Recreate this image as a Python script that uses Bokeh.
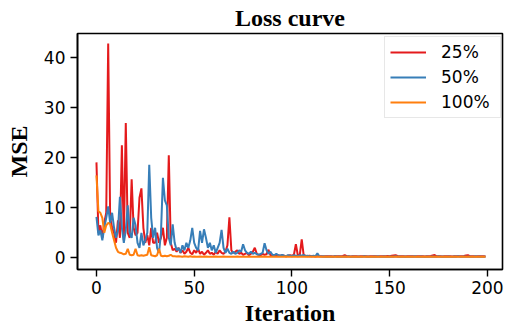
from bokeh.plotting import figure
from bokeh.models import Range1d, FixedTicker, Legend, LegendItem
from bokeh.embed import file_html
from bokeh.resources import INLINE

iterations = list(range(200))

loss_25 = [
    19.1, 5.0, 6.5, 4.0, 7.0, 9.0, 42.9, 8.0, 6.0, 5.0,
    3.0, 7.5, 4.0, 22.5, 3.5, 27.0, 5.0, 4.0, 15.7, 6.0,
    4.5, 5.0, 12.0, 13.9, 6.0, 3.0, 4.5, 2.5, 6.0, 3.0,
    3.0, 5.0, 3.0, 4.0, 6.0, 2.5, 4.0, 20.5, 3.0, 1.5,
    1.8, 1.2, 2.0, 1.0, 1.5, 0.8, 1.2, 2.0, 1.0, 0.7,
    1.5, 1.0, 1.8, 0.8, 1.2, 0.6, 1.0, 1.5, 0.8, 1.0,
    0.6, 1.2, 0.8, 1.5, 1.0, 0.8, 1.2, 2.5, 8.1, 1.5,
    1.0, 1.2, 1.5, 0.8, 1.0, 0.6, 0.8, 1.0, 0.5, 0.8,
    1.2, 2.0, 0.8, 0.6, 0.5, 0.8, 0.6, 0.7, 1.6, 0.5,
    0.4, 0.6, 0.4, 0.5, 0.4, 0.5, 0.4, 0.3, 0.4, 0.5,
    0.4, 0.6, 2.7, 0.5, 0.6, 3.7, 0.5, 0.4, 0.3, 0.4,
    0.3, 0.3, 0.25, 0.3, 0.28, 0.3, 0.25, 0.3, 0.3, 0.28,
    0.3, 0.25, 0.3, 0.28, 0.3, 0.3, 0.35, 0.5, 0.3, 0.28,
    0.25, 0.3, 0.28, 0.3, 0.25, 0.3, 0.3, 0.28, 0.3, 0.25,
    0.3, 0.28, 0.3, 0.3, 0.25, 0.3, 0.28, 0.3, 0.3, 0.35,
    0.3, 0.4, 0.45, 0.5, 0.35, 0.3, 0.28, 0.3, 0.25, 0.3,
    0.3, 0.28, 0.3, 0.25, 0.3, 0.3, 0.28, 0.3, 0.25, 0.3,
    0.3, 0.35, 0.45, 0.55, 0.3, 0.28, 0.3, 0.25, 0.3, 0.3,
    0.28, 0.3, 0.25, 0.3, 0.3, 0.28, 0.3, 0.3, 0.35, 0.45,
    0.5, 0.3, 0.28, 0.3, 0.25, 0.3, 0.3, 0.28, 0.3, 0.25,
]

loss_50 = [
    8.2, 4.5, 5.5, 3.5, 6.0, 8.0, 10.3, 7.0, 9.0, 6.0,
    4.0, 5.5, 12.2, 6.0, 3.0, 5.5, 10.5, 5.0, 4.0, 8.0,
    6.5, 3.0, 2.0, 5.0, 2.5, 3.5, 5.0, 18.6, 8.0, 4.0,
    6.0, 2.0, 1.0, 5.0, 16.0, 11.5, 10.5, 4.0, 2.5, 6.7,
    3.0, 1.5, 2.0, 1.0, 2.5, 1.5, 3.0, 2.0, 3.5, 6.0,
    3.0, 2.0, 1.5, 5.4, 3.0, 5.7, 4.0, 2.0, 3.0, 1.5,
    2.5, 1.0, 2.0, 3.0, 5.6, 2.0, 1.0, 1.8, 1.0, 0.8,
    1.2, 0.8, 1.0, 1.5, 1.2, 2.7, 1.5, 1.0, 0.8, 1.2,
    0.8, 1.0, 0.7, 0.6, 0.8, 1.0, 2.9, 1.5, 0.8, 1.2,
    0.6, 0.5, 0.8, 0.5, 0.4, 0.6, 0.4, 0.3, 0.5, 0.4,
    0.3, 0.5, 0.4, 0.3, 0.5, 0.4, 0.6, 0.3, 0.4, 0.3,
    0.3, 0.4, 0.3, 0.9, 0.3, 0.25, 0.3, 0.2, 0.25, 0.2,
    0.25, 0.2, 0.3, 0.2, 0.25, 0.2, 0.2, 0.25, 0.2, 0.3,
    0.2, 0.25, 0.2, 0.2, 0.25, 0.2, 0.2, 0.3, 0.2, 0.25,
    0.2, 0.2, 0.25, 0.2, 0.3, 0.2, 0.2, 0.25, 0.2, 0.2,
    0.25, 0.2, 0.2, 0.3, 0.2, 0.25, 0.2, 0.2, 0.25, 0.2,
    0.2, 0.25, 0.2, 0.3, 0.2, 0.2, 0.25, 0.2, 0.2, 0.25,
    0.2, 0.2, 0.25, 0.2, 0.2, 0.3, 0.2, 0.25, 0.2, 0.2,
    0.25, 0.2, 0.2, 0.25, 0.2, 0.3, 0.2, 0.2, 0.25, 0.2,
    0.2, 0.25, 0.2, 0.2, 0.3, 0.2, 0.25, 0.2, 0.2, 0.25,
]

loss_100 = [
    16.5, 9.3, 9.0, 8.0, 5.0, 6.5, 7.0, 6.7, 5.0, 3.5,
    2.0, 1.2, 1.0, 0.9, 0.7, 0.8, 1.8, 0.6, 0.5, 0.6,
    1.8, 0.5, 0.4, 0.5, 0.4, 0.5, 0.6, 2.1, 0.5, 0.4,
    0.3, 0.5, 1.8, 0.4, 0.3, 0.4, 0.3, 0.4, 0.6, 0.3,
    0.3, 0.25, 0.3, 0.25, 0.2, 0.3, 0.25, 0.2, 0.3, 0.2,
    0.25, 0.2, 0.2, 0.25, 0.2, 0.2, 0.25, 0.2, 0.2, 0.2,
    0.2, 0.25, 0.2, 0.2, 0.2, 0.25, 0.2, 0.2, 0.2, 0.2,
    0.2, 0.2, 0.25, 0.2, 0.2, 0.2, 0.2, 0.2, 0.25, 0.2,
    0.2, 0.2, 0.2, 0.2, 0.2, 0.25, 0.2, 0.2, 0.2, 0.2,
    0.2, 0.2, 0.2, 0.2, 0.2, 0.2, 0.2, 0.25, 0.2, 0.2,
    0.2, 0.2, 0.2, 0.2, 0.2, 0.2, 0.2, 0.2, 0.2, 0.2,
    0.2, 0.2, 0.2, 0.2, 0.2, 0.2, 0.2, 0.2, 0.2, 0.2,
    0.2, 0.2, 0.2, 0.2, 0.2, 0.2, 0.2, 0.2, 0.2, 0.2,
    0.2, 0.2, 0.2, 0.2, 0.2, 0.2, 0.2, 0.2, 0.2, 0.2,
    0.2, 0.2, 0.2, 0.2, 0.2, 0.2, 0.2, 0.2, 0.2, 0.2,
    0.2, 0.2, 0.2, 0.2, 0.2, 0.2, 0.2, 0.2, 0.2, 0.2,
    0.2, 0.2, 0.2, 0.2, 0.2, 0.2, 0.2, 0.2, 0.2, 0.2,
    0.2, 0.2, 0.2, 0.2, 0.2, 0.2, 0.2, 0.2, 0.2, 0.2,
    0.2, 0.2, 0.2, 0.2, 0.2, 0.2, 0.2, 0.2, 0.2, 0.2,
    0.2, 0.2, 0.2, 0.2, 0.2, 0.2, 0.2, 0.2, 0.2, 0.2,
]

series_labels = ["25%", "50%", "100%"]
series_colors = ["#e41a1c", "#377eb8", "#ff7f0e"]
x_ticks = [0, 50, 100, 150, 200]
y_ticks = [0, 10, 20, 30, 40]

SERIF = "Liberation Serif"
SANS = "DejaVu Sans"

p = figure(width=504, height=328, output_backend="svg", toolbar_location=None,
           title="Loss curve",
           x_range=Range1d(-9.7, 207.7), y_range=Range1d(-2.35, 44.9),
           min_border_left=77, min_border_right=2, min_border_top=30,
           min_border_bottom=57)

p.title.text_font = SERIF
p.title.text_font_style = "bold"
p.title.text_font_size = "24px"
p.title.text_color = "black"
p.title.text_line_height = 0.8
p.title.align = "center"
p.title.offset = 0
p.title.standoff = 5

p.xgrid.visible = False
p.ygrid.visible = False
p.outline_line_color = "black"
p.outline_line_width = 1.6
p.outline_line_alpha = 1.0

renderers = []
for ys, c in zip([loss_25, loss_50, loss_100], series_colors):
    r = p.line(iterations, ys, line_color=c, line_width=2)
    renderers.append(r)

legend = Legend(items=[LegendItem(label=l, renderers=[r]) for l, r in zip(series_labels, renderers)],
                location=(307, 151))
legend.label_text_font = SANS
legend.label_text_font_size = "17px"
legend.label_text_color = "black"
legend.glyph_width = 36
legend.glyph_height = 20
legend.label_height = 20
legend.label_width = 54
legend.label_standoff = 15
legend.padding = 5
legend.spacing = 5
legend.margin = 0
legend.border_line_color = "#d0d0d0"
legend.border_line_width = 1
legend.background_fill_alpha = 0.8
p.add_layout(legend)

for ax, ticks in ((p.xaxis[0], x_ticks), (p.yaxis[0], y_ticks)):
    ax.ticker = FixedTicker(ticks=ticks)
    ax.minor_tick_line_color = None
    ax.major_tick_out = 7
    ax.major_tick_in = 0
    ax.major_tick_line_width = 1.4
    ax.major_tick_line_color = "black"
    ax.axis_line_width = 1.6
    ax.axis_line_color = "black"
    ax.major_label_text_font = SANS
    ax.major_label_text_font_size = "17px"
    ax.major_label_text_color = "black"
    ax.major_label_text_line_height = 0.9
    ax.axis_label_text_font = SERIF
    ax.axis_label_text_font_style = "bold"
    ax.axis_label_text_font_size = "24px"
    ax.axis_label_text_color = "black"
    ax.axis_label_text_line_height = 0.9

p.xaxis.axis_label = "Iteration"
p.xaxis.major_label_standoff = 4
p.xaxis.axis_label_standoff = 3
p.yaxis.axis_label = "MSE"
p.yaxis.major_label_standoff = 5
p.yaxis.axis_label_standoff = 9

open("out.html", "w").write(file_html(p, INLINE))
